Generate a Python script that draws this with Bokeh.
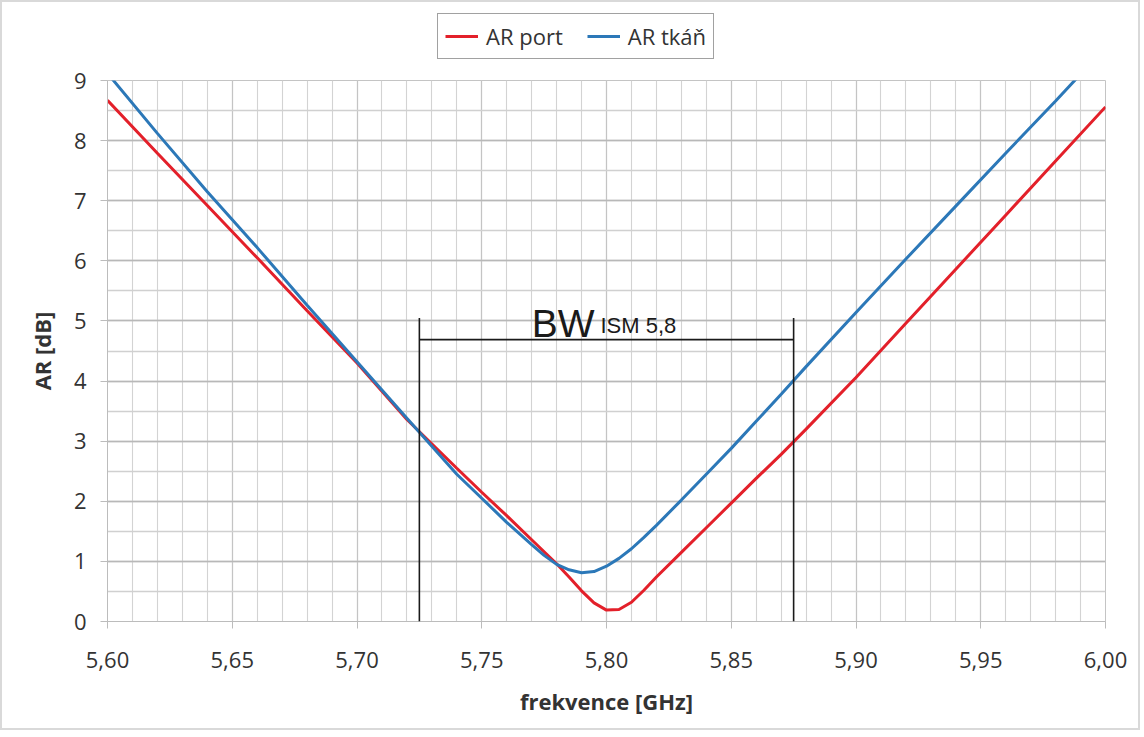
from bokeh.plotting import figure
from bokeh.layouts import column
from bokeh.embed import file_html
from bokeh.resources import INLINE
from bokeh.models import (Legend, LegendItem, Label, Arrow, FixedTicker, CustomJSTickFormatter)

# ---- data ----
freq_port = [5.60, 5.62, 5.64, 5.66, 5.68, 5.70, 5.72, 5.74, 5.75, 5.76, 5.77, 5.78,
             5.785, 5.79, 5.795, 5.80, 5.805, 5.81, 5.815, 5.82, 5.83, 5.84, 5.85, 5.86,
             5.87, 5.88, 5.90, 5.92, 5.94, 5.96, 5.98, 6.00]
ar_port = [8.67, 7.79, 6.92, 6.05, 5.17, 4.30, 3.36, 2.55, 2.15, 1.76, 1.36, 0.96,
           0.74, 0.51, 0.31, 0.19, 0.20, 0.32, 0.52, 0.74, 1.15, 1.56, 1.97, 2.38,
           2.78, 3.20, 4.06, 4.96, 5.86, 6.76, 7.66, 8.56]

freq_tissue = [5.60, 5.62, 5.64, 5.66, 5.68, 5.70, 5.72, 5.74, 5.75, 5.76, 5.77, 5.775,
               5.78, 5.785, 5.79, 5.795, 5.80, 5.805, 5.81, 5.815, 5.82, 5.83, 5.84,
               5.85, 5.86, 5.87, 5.88, 5.90, 5.92, 5.94, 5.96, 5.98, 6.00]
ar_tissue = [9.12, 8.12, 7.15, 6.22, 5.26, 4.32, 3.38, 2.45, 2.05, 1.65, 1.28, 1.10,
             0.95, 0.86, 0.81, 0.83, 0.92, 1.05, 1.21, 1.40, 1.60, 2.02, 2.45,
             2.88, 3.33, 3.78, 4.24, 5.14, 6.03, 6.91, 7.79, 8.66, 9.55]

series_names = ["AR port", "AR tkáň"]
bw_edges = [5.725, 5.875]
bw_level = 4.69
bw_top = 5.05
bw_bottom = 0.0
x_ticks = [5.60, 5.65, 5.70, 5.75, 5.80, 5.85, 5.90, 5.95, 6.00]
y_ticks = [0, 1, 2, 3, 4, 5, 6, 7, 8, 9]

RED = "#e3202a"
BLUE = "#2c78b8"
TXT = "#333333"
FONT = "Open Sans"

# ---------------- main chart ----------------
p = figure(frame_width=998, frame_height=541, output_backend="svg", toolbar_location=None,
           x_range=(5.60, 6.00), y_range=(0, 9),
           min_border_left=105, min_border_right=33, min_border_top=16, min_border_bottom=107)
p.background_fill_color = "white"
p.border_fill_color = "white"
p.outline_line_color = "#c4c4c4"

p.xaxis.ticker = FixedTicker(ticks=x_ticks,
                             minor_ticks=[round(5.60 + 0.01 * i, 2) for i in range(41)])
p.yaxis.ticker = FixedTicker(ticks=y_ticks, minor_ticks=[0.5 * i for i in range(19)])
p.xaxis.formatter = CustomJSTickFormatter(code="return tick.toFixed(2).replace('.', ',');")
for ax in (p.xaxis[0], p.yaxis[0]):
    ax.major_tick_out = 7
    ax.major_tick_in = 0
    ax.minor_tick_out = 0
    ax.minor_tick_in = 0
    ax.major_tick_line_color = "#bcbcbc"
    ax.axis_line_color = "#bcbcbc"
    ax.major_label_text_font = FONT
    ax.major_label_text_font_size = "22px"
    ax.major_label_text_color = TXT
    ax.axis_label_text_font = FONT
    ax.axis_label_text_font_size = "22px"
    ax.axis_label_text_font_style = "bold"
    ax.axis_label_text_color = TXT
p.xaxis.axis_label = "frekvence [GHz]"
p.yaxis.axis_label = "AR [dB]"
p.xaxis.major_label_standoff = 23
p.xaxis.axis_label_standoff = 15
p.yaxis.major_label_standoff = 14
p.yaxis.axis_label_standoff = 14

p.xgrid.grid_line_color = "#c4c4c4"
p.xgrid.grid_line_width = 1.2
p.xgrid.minor_grid_line_color = "#d3d3d3"
p.xgrid.minor_grid_line_width = 1.1
p.ygrid.grid_line_color = "#b8b8b8"
p.ygrid.grid_line_width = 1.5
p.ygrid.minor_grid_line_color = "#d0d0d0"
p.ygrid.minor_grid_line_width = 1.3

# BW annotation
for e in bw_edges:
    p.add_layout(Arrow(end=None, x_start=e, y_start=bw_bottom, x_end=e, y_end=bw_top,
                       line_color="#1a1a1a", line_width=1.6))
p.add_layout(Arrow(end=None, x_start=bw_edges[0], y_start=bw_level, x_end=bw_edges[1],
                   y_end=bw_level, line_color="#1a1a1a", line_width=1.6))
bw_center = sum(bw_edges) / 2
p.add_layout(Label(x=bw_center, y=bw_level, text="BW", text_align="right",
                   text_baseline="alphabetic", x_offset=-12, y_offset=16,
                   text_font="Liberation Sans", text_font_size="39px",
                   text_color="#1a1a1a"))
p.add_layout(Label(x=bw_center, y=bw_level, text="ISM 5,8", text_align="left",
                   text_baseline="alphabetic", x_offset=-6, y_offset=14,
                   text_font="Liberation Sans", text_font_size="22px",
                   text_color="#1a1a1a"))

p.line(freq_port, ar_port, line_color=RED, line_width=3)
p.line(freq_tissue, ar_tissue, line_color=BLUE, line_width=3)

# ---------------- legend strip ----------------
lg = figure(width=1136, height=62, output_backend="svg", toolbar_location=None,
            x_axis_location=None, y_axis_location=None, min_border=0,
            x_range=(5.60, 6.00), y_range=(0, 9))
lg.grid.visible = False
lg.outline_line_color = None
lg.background_fill_color = "white"
lg.border_fill_color = "white"
l_port = lg.line(freq_port, ar_port, line_color=RED, line_width=3, visible=False)
l_tis = lg.line(freq_tissue, ar_tissue, line_color=BLUE, line_width=3, visible=False)

legend = Legend(items=[LegendItem(label=series_names[0], renderers=[l_port]),
                       LegendItem(label=series_names[1], renderers=[l_tis])],
                orientation="horizontal", location=(330, 5),
                label_text_font=FONT, label_text_font_size="22px", label_text_color=TXT,
                glyph_width=33, glyph_height=20, label_standoff=8, spacing=24,
                padding=7, margin=0, border_line_color="#444444", border_line_width=1.5,
                background_fill_color="white", background_fill_alpha=1)
lg.add_layout(legend, "center")

layout = column(lg, p, spacing=0, styles={"border": "2px solid #d9d9d9"})
open("out.html", "w").write(file_html(layout, INLINE))
